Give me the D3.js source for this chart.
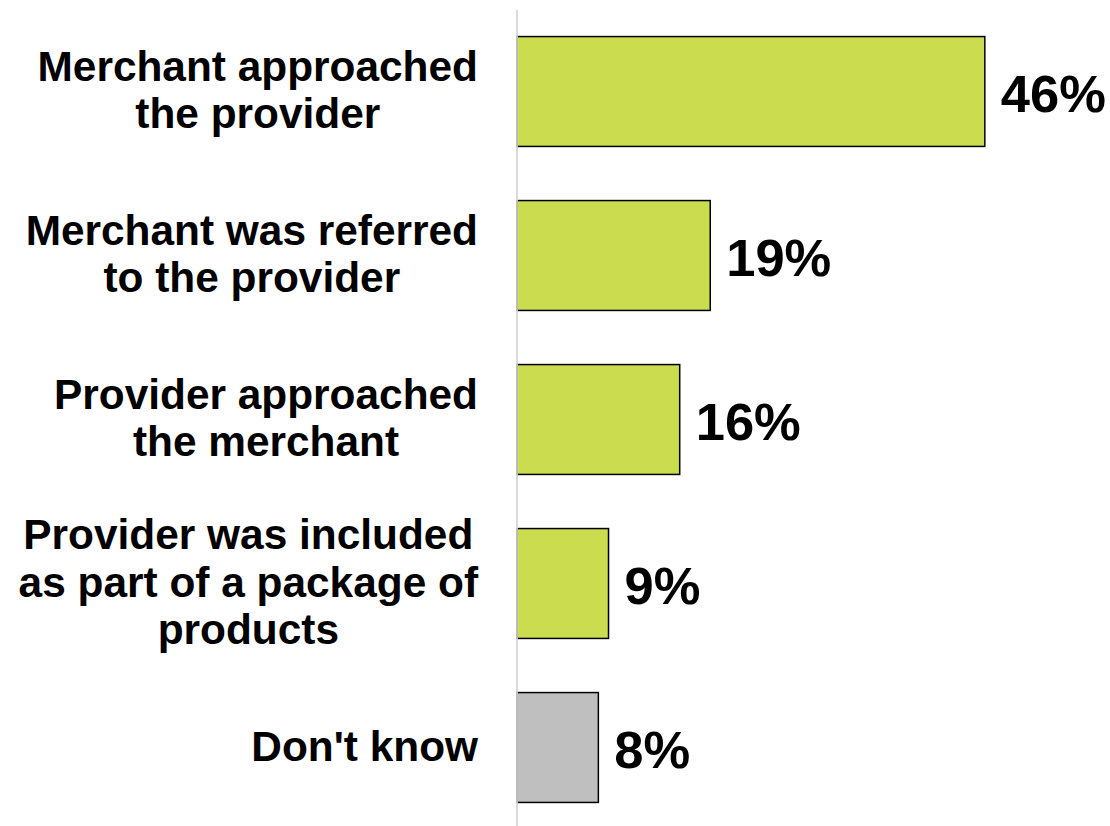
<!DOCTYPE html>
<html>
<head>
<meta charset="utf-8">
<script src="https://cdn.jsdelivr.net/npm/d3@7/dist/d3.min.js"></script>
<style>
  html, body { margin: 0; padding: 0; background: #ffffff; }
  svg { display: block; }
  text { font-family: "Liberation Sans", Arial, sans-serif; font-weight: bold; fill: #000; }
</style>
</head>
<body>
<svg id="chart" width="1110" height="826"></svg>
<script>
// Responses: how the merchant and the provider came together
const categories = [
  ["Merchant approached", "the provider"],
  ["Merchant was referred", "to the provider"],
  ["Provider approached", "the merchant"],
  ["Provider was included", "as part of a package of", "products"],
  ["Don't know"]
];
const values = [46, 19, 16, 9, 8];
const valueLabels = ["46%", "19%", "16%", "9%", "8%"];
const barColors = ["#cbdc4e", "#cbdc4e", "#cbdc4e", "#cbdc4e", "#bfbfbf"];

const svg = d3.select("#chart");
const axisX = 517;
const labelRight = 478;
const lineHeight = 47.5;

const keys = d3.range(values.length);

const x = d3.scaleLinear().domain([0, 50]).range([axisX, axisX + 508.5]);
const y = d3.scaleBand().domain(keys).range([9.5, 829.5]).paddingInner(0.33).paddingOuter(0.165);

// Bars
svg.append("g").selectAll("rect")
  .data(keys)
  .join("rect")
  .attr("x", x(0))
  .attr("y", i => y(i))
  .attr("width", i => x(values[i]) - x(0))
  .attr("height", y.bandwidth())
  .attr("fill", i => barColors[i])
  .attr("stroke", "#000")
  .attr("stroke-width", 1.5);

// Category axis line
svg.append("line")
  .attr("x1", axisX).attr("x2", axisX)
  .attr("y1", 10).attr("y2", 826)
  .attr("stroke", "#d4d4d4")
  .attr("stroke-width", 1.7);

// Category labels: each block is centred on itself and right-aligned to the axis gap
const labelG = svg.append("g");
keys.forEach(i => {
  const lines = categories[i];
  const cy = y(i) + y.bandwidth() / 2;
  const t = labelG.append("text")
    .attr("font-size", 42.4)
    .attr("text-anchor", "middle");
  const spans = lines.map((ln, k) =>
    t.append("tspan")
      .attr("y", cy - lineHeight * (lines.length - 1) / 2 + k * lineHeight + 13)
      .text(ln)
  );
  const maxW = d3.max(spans, s => s.node().getComputedTextLength());
  spans.forEach(s => s.attr("x", labelRight - maxW / 2));
});

// Value labels
svg.append("g").selectAll("text")
  .data(keys)
  .join("text")
  .attr("x", i => x(values[i]) + 16)
  .attr("y", i => y(i) + y.bandwidth() / 2 + 20)
  .attr("font-size", 52.5)
  .text(i => valueLabels[i]);
</script>
</body>
</html>
